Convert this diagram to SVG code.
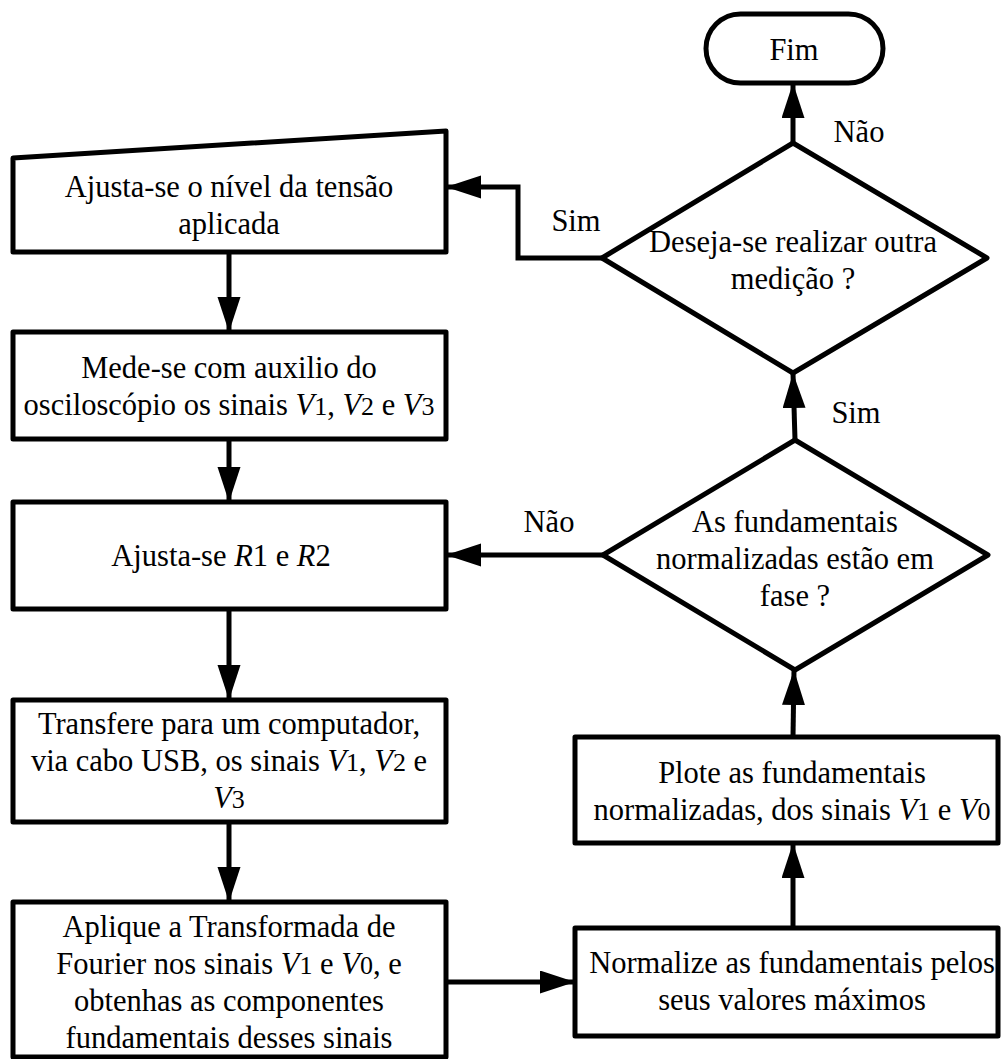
<svg xmlns="http://www.w3.org/2000/svg" width="1001" height="1059" viewBox="0 0 1001 1059">
<style>
.s{fill:#fff;stroke:#000;stroke-width:5;stroke-linejoin:round}
.c{fill:none;stroke:#000;stroke-width:5}
text{font-family:"Liberation Serif","Times New Roman",serif;font-size:30.5px;fill:#000;text-anchor:middle}
.i{font-style:italic}
.d{font-size:26px}
</style>
<defs>
<marker id="ah" markerUnits="userSpaceOnUse" markerWidth="36" markerHeight="24" refX="35" refY="11.5" orient="auto">
<path d="M0,0 L35,11.5 L0,23 z" fill="#000"/>
</marker>
</defs>
<g id="connectors">
<line class="c" x1="229" y1="252" x2="229" y2="332" marker-end="url(#ah)"/>
<line class="c" x1="229" y1="439" x2="229" y2="502" marker-end="url(#ah)"/>
<line class="c" x1="229" y1="609" x2="229" y2="700" marker-end="url(#ah)"/>
<line class="c" x1="229" y1="822" x2="229" y2="902" marker-end="url(#ah)"/>
<line class="c" x1="446" y1="982" x2="575" y2="982" marker-end="url(#ah)"/>
<line class="c" x1="793" y1="928" x2="793" y2="843" marker-end="url(#ah)"/>
<line class="c" x1="793" y1="737" x2="794" y2="670" marker-end="url(#ah)"/>
<line class="c" x1="795" y1="440" x2="793" y2="373" marker-end="url(#ah)"/>
<line class="c" x1="793" y1="143" x2="793" y2="83" marker-end="url(#ah)"/>
<polyline class="c" points="602,258 518,258 518,187 446,187" marker-end="url(#ah)"/>
<line class="c" x1="603" y1="555" x2="446" y2="555" marker-end="url(#ah)"/>
<text x="859" y="142">Não</text>
<text x="576" y="231">Sim</text>
<text x="856" y="423">Sim</text>
<text x="549" y="532">Não</text>
</g>
<g id="n-fim">
<rect class="s" x="706" y="14" width="177" height="69" rx="34.5"/>
<text x="794" y="60">Fim</text>
</g>
<g id="n-ajusta-tensao">
<path class="s" d="M13,158 L446,131 L446,252 L13,252 Z"/>
<text x="229" y="197">Ajusta-se o nível da tensão</text>
<text x="229" y="234">aplicada</text>
</g>
<g id="n-mede">
<rect class="s" x="13" y="332" width="433" height="107"/>
<text x="229" y="378">Mede-se com auxilio do</text>
<text x="229" y="415">osciloscópio os sinais <tspan class="i">V</tspan><tspan class="d">1</tspan>, <tspan class="i">V</tspan><tspan class="d">2</tspan> e <tspan class="i">V</tspan><tspan class="d">3</tspan></text>
</g>
<g id="n-ajusta-r">
<rect class="s" x="13" y="502" width="433" height="107"/>
<text x="221" y="566">Ajusta-se <tspan class="i">R</tspan>1 e <tspan class="i">R</tspan>2</text>
</g>
<g id="n-transfere">
<rect class="s" x="13" y="700" width="433" height="122"/>
<text x="229" y="734">Transfere para um computador,</text>
<text x="229" y="771">via cabo USB, os sinais <tspan class="i">V</tspan><tspan class="d">1</tspan>, <tspan class="i">V</tspan><tspan class="d">2</tspan> e</text>
<text x="229" y="808"><tspan class="i">V</tspan><tspan class="d">3</tspan></text>
</g>
<g id="n-fourier">
<rect class="s" x="13" y="902" width="433" height="155"/>
<text x="229" y="937">Aplique a Transformada de</text>
<text x="229" y="974">Fourier nos sinais <tspan class="i">V</tspan><tspan class="d">1</tspan> e <tspan class="i">V</tspan><tspan class="d">0</tspan>, e</text>
<text x="229" y="1011">obtenhas as componentes</text>
<text x="229" y="1048">fundamentais desses sinais</text>
</g>
<g id="n-normalize">
<rect class="s" x="575" y="928" width="423" height="108"/>
<text x="792" y="973">Normalize as fundamentais pelos</text>
<text x="792" y="1010">seus valores máximos</text>
</g>
<g id="n-plote">
<rect class="s" x="575" y="737" width="423" height="106"/>
<text x="792" y="783">Plote as fundamentais</text>
<text x="792" y="820">normalizadas, dos sinais <tspan class="i">V</tspan><tspan class="d">1</tspan> e <tspan class="i">V</tspan><tspan class="d">0</tspan></text>
</g>
<g id="n-fase">
<path class="s" d="M795,440 L988,555 L795,670 L603,555 Z"/>
<text x="795" y="532">As fundamentais</text>
<text x="795" y="569">normalizadas estão em</text>
<text x="795" y="606">fase ?</text>
</g>
<g id="n-outra">
<path class="s" d="M793,143 L987,258 L793,373 L602,258 Z"/>
<text x="793" y="252">Deseja-se realizar outra</text>
<text x="793" y="289">medição ?</text>
</g>
</svg>
